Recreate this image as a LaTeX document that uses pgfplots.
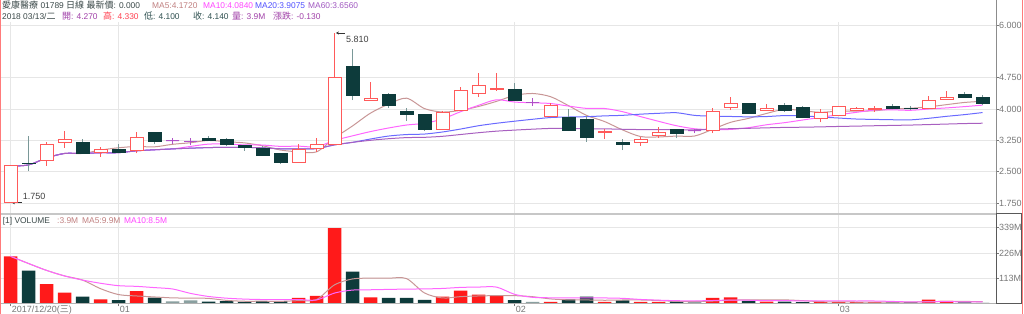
\documentclass[border=0pt]{standalone}
\usepackage{fontspec}
\setmainfont{Liberation Sans}
\newfontfamily\cjk{Noto Sans CJK TC}
\usepackage{pgfplots}
\usepackage{pgfplotstable}
\pgfplotsset{compat=1.18}
\usetikzlibrary{arrows.meta}

\definecolor{upred}{HTML}{FF5A5A}
\definecolor{dnfill}{HTML}{0D3B3B}
\definecolor{dnwick}{HTML}{7A9898}
\definecolor{doji}{HTML}{B050C8}
\definecolor{volred}{HTML}{FF1A1A}
\definecolor{voldn}{HTML}{0D3B3B}
\definecolor{voldoji}{HTML}{8AA0A0}
\definecolor{ma5c}{HTML}{C89696}
\definecolor{ma10c}{HTML}{FF66FF}
\definecolor{ma20c}{HTML}{6A6AFF}
\definecolor{ma60c}{HTML}{A860C0}
\definecolor{gridc}{HTML}{E6E6E6}
\definecolor{tickc}{HTML}{777777}
\definecolor{hdr}{HTML}{3A4848}
\definecolor{hma5}{HTML}{C08080}
\definecolor{hma10}{HTML}{FF44FF}
\definecolor{hma20}{HTML}{5050FF}
\definecolor{hma60}{HTML}{A058C0}
\definecolor{hpur}{HTML}{A040A8}
\definecolor{hred}{HTML}{FF4050}
\definecolor{hteal}{HTML}{2F5050}

\newcommand\ftsz{\fontsize{9bp}{11bp}\selectfont}
\newcommand\hsz{\fontsize{8.4bp}{11bp}\selectfont}
\newcommand\cj[1]{{\fontsize{9bp}{11bp}\cjk #1}}

% OHLC, up (red hollow) candles
\pgfplotstableread{
x o h l c
1 1.77 2.65 1.75 2.64
3 2.78 3.22 2.64 3.16
4 3.19 3.48 3.08 3.26
6 2.96 3.10 2.86 3.04
8 3.00 3.44 2.94 3.31
17 2.72 3.16 2.72 3.03
18 3.05 3.30 2.98 3.15
19 3.16 5.81 3.14 4.74
21 4.20 4.65 4.20 4.25
25 3.50 3.95 3.50 3.92
26 3.96 4.53 3.96 4.45
27 4.37 4.85 4.29 4.55
28 4.46 4.85 4.43 4.48
31 3.81 4.13 3.81 4.07
34 3.43 3.51 3.29 3.47
36 3.19 3.34 3.12 3.28
37 3.36 3.56 3.31 3.43
40 3.48 4.03 3.42 3.95
41 4.03 4.28 3.97 4.12
43 3.97 4.12 3.96 4.01
46 3.78 3.99 3.68 3.92
47 3.85 4.05 3.84 4.05
48 3.96 4.05 3.94 4.00
49 3.99 4.06 3.93 4.02
52 4.01 4.31 4.00 4.21
53 4.23 4.43 4.22 4.27
}\upc
% down (dark filled) candles
\pgfplotstableread{
x o h l c
2 2.71 3.35 2.52 2.69
5 3.20 3.29 2.93 2.94
7 3.04 3.16 2.96 2.97
9 3.43 3.43 3.16 3.22
12 3.29 3.35 3.23 3.24
13 3.28 3.31 3.12 3.16
14 3.13 3.14 3.00 3.08
15 3.06 3.11 2.88 2.90
16 2.93 2.94 2.69 2.72
20 5.00 5.43 4.21 4.33
22 4.35 4.39 4.03 4.09
23 3.93 4.03 3.72 3.87
24 3.87 3.88 3.47 3.50
29 4.47 4.61 4.19 4.20
32 3.80 3.99 3.47 3.48
33 3.75 3.83 3.22 3.32
35 3.19 3.28 3.02 3.16
38 3.50 3.51 3.30 3.42
42 4.12 4.12 3.90 3.90
44 4.07 4.13 3.93 3.97
45 4.04 4.06 3.78 3.79
50 4.05 4.11 3.99 4.00
51 4.02 4.06 3.97 4.01
54 4.35 4.40 4.27 4.28
55 4.27 4.33 4.10 4.14
}\dnc
% doji candles
\pgfplotstableread{
x o h l c
10 3.24 3.31 3.17 3.24
11 3.23 3.31 3.14 3.23
30 4.16 4.27 4.08 4.16
39 3.48 3.53 3.42 3.48
}\djc
% moving averages of the close
\pgfplotstableread{
x ma5 ma10 ma20 ma60
1 2.640 2.640 2.640 2.640
2 2.665 2.665 2.665 2.665
3 2.830 2.830 2.830 2.830
4 2.938 2.938 2.938 2.938
5 2.938 2.938 2.938 2.938
6 3.018 2.955 2.955 2.955
7 3.074 2.957 2.957 2.957
8 3.104 3.001 3.001 3.001
9 3.096 3.026 3.026 3.026
10 3.156 3.047 3.047 3.047
11 3.194 3.106 3.064 3.064
12 3.248 3.161 3.078 3.078
13 3.218 3.161 3.085 3.085
14 3.190 3.143 3.084 3.084
15 3.122 3.139 3.072 3.072
16 3.020 3.107 3.050 3.050
17 2.978 3.113 3.049 3.049
18 2.976 3.097 3.054 3.054
19 3.308 3.249 3.143 3.143
20 3.594 3.358 3.203 3.203
21 3.900 3.460 3.283 3.252
22 4.112 3.545 3.353 3.290
23 4.256 3.616 3.389 3.316
24 4.008 3.658 3.401 3.323
25 3.926 3.760 3.450 3.347
26 3.966 3.933 3.520 3.390
27 4.058 4.085 3.599 3.433
28 4.180 4.218 3.658 3.470
29 4.320 4.164 3.707 3.495
30 4.368 4.147 3.753 3.517
31 4.292 4.129 3.795 3.535
32 4.078 4.068 3.807 3.533
33 3.846 4.013 3.815 3.527
34 3.700 4.010 3.834 3.525
35 3.500 3.934 3.847 3.515
36 3.342 3.817 3.875 3.508
37 3.332 3.705 3.895 3.506
38 3.352 3.599 3.909 3.504
39 3.354 3.527 3.846 3.503
40 3.512 3.506 3.827 3.515
41 3.680 3.511 3.820 3.529
42 3.774 3.553 3.811 3.538
43 3.892 3.622 3.818 3.549
44 3.990 3.672 3.841 3.559
45 3.958 3.735 3.835 3.564
46 3.918 3.799 3.808 3.572
47 3.948 3.861 3.783 3.582
48 3.946 3.919 3.759 3.590
49 3.956 3.973 3.750 3.599
50 3.998 3.978 3.742 3.607
51 4.016 3.967 3.739 3.615
52 4.048 3.998 3.776 3.627
53 4.102 4.024 3.823 3.639
54 4.154 4.055 3.864 3.651
55 4.182 4.090 3.913 3.659
}\matab
% volumes (millions)
\pgfplotstableread{
x v
1 212
3 88
4 50
6 20
8 57
17 26
18 35
19 338
21 29
25 32
26 59
27 41
28 34
31 9
34 9
36 9
37 9
40 26
41 29
43 10
46 7
47 7
48 8
49 7
52 19
53 13
}\volup
\pgfplotstableread{
x v
2 148
5 32
7 16
9 28
12 10
13 12
14 9
15 12
16 12
20 144
22 26
23 26
24 17
29 16
32 20
33 32
35 15
38 11
42 13
44 10
45 8
50 6.5
51 7.6
54 6
55 3.9
}\voldn
\pgfplotstableread{
x v
10 11
11 15
30 9
39 7
}\voldj
\pgfplotstableread{
x vma5 vma10
1 212 212
2 180 180
3 149.3 149.3
4 124.5 124.5
5 106 106
6 67.6 91.7
7 41.2 80.9
8 35 77.9
9 30.6 72.3
10 26.4 66.2
11 25.4 46.5
12 24.2 32.7
13 15.2 25.1
14 11.4 21
15 11.6 19
16 11 18.2
17 14.2 19.2
18 18.8 17
19 84.6 48
20 111 61.3
21 114.4 62.7
22 114.4 64.3
23 112.6 65.7
24 48.4 66.5
25 26 68.5
26 32 73.2
27 35 74.7
28 36.6 74.6
29 36.4 42.4
30 31.8 28.9
31 21.8 26.9
32 17.6 26.3
33 17.2 26.9
34 15.8 26.1
35 17 24.4
36 17 19.4
37 14.8 16.2
38 10.6 13.9
39 10.2 13
40 12.4 14.7
41 16.4 16.7
42 17.2 16
43 17 13.8
44 17.6 13.9
45 14 13.2
46 9.6 13
47 8.4 12.8
48 8 12.5
49 7.4 12.5
50 7.1 10.55
51 7.22 8.41
52 9.62 9.01
53 10.62 9.31
54 10.42 8.91
55 9.9 8.5
}\vmatab

% price scale of the upper axis: 191bp over 6.072-1.519
\def\pscale{41.95}
\newcommand\tofixed[2]{\pgfmathfloatparsenumber{#1}\pgfmathfloattofixed{\pgfmathresult}\let#2=\pgfmathresult}
\pgfplotsset{
  candle/.style n args={3}{
    scatter, only marks, mark=*, mark size=0pt,
    mark options={draw=none, fill=none},
    visualization depends on={\thisrow{o} \as \candO},
    visualization depends on={\thisrow{h} \as \candH},
    visualization depends on={\thisrow{l} \as \candL},
    visualization depends on={\thisrow{c} \as \candC},
    scatter/@pre marker code/.code={%
      \tofixed{\candO}{\nO}\tofixed{\candH}{\nH}%
      \tofixed{\candL}{\nL}\tofixed{\candC}{\nC}%
      \pgfmathsetmacro\cdO{(\nO-\nC)*\pscale}%
      \pgfmathsetmacro\cdH{(\nH-\nC)*\pscale}%
      \pgfmathsetmacro\cdL{(\nL-\nC)*\pscale}%
      \draw[draw=#3, line width=1bp] (0bp,\cdL bp) -- (0bp,\cdH bp);
      \draw[draw=#1, fill=#2, line width=1bp] (-6.5bp,0bp) rectangle (6.5bp,\cdO bp);
    },
    scatter/@post marker code/.code={},
  },
}

\begin{document}
\begin{tikzpicture}

\begin{axis}[at={(1bp,101bp)}, anchor=south west, scale only axis,
  width=995bp, height=191bp,
  xmin=0.4722, xmax=55.75, ymin=1.519, ymax=6.072,
  axis line style={draw=none},
  xtick={1,7,29,47}, xticklabels={}, xtick style={draw=none},
  ytick={1.75,2.5,3.25,4,4.75,6},
  yticklabels={1.750,2.500,3.250,4.000,4.750,6.000},
  ytick pos=right, yticklabel pos=right, tick align=outside,
  major tick length=2.5bp,
  ytick style={color=tickc, line width=0.8bp},
  yticklabel style={font=\ftsz, text=tickc, anchor=west, inner sep=0.5bp},
  grid=major, major grid style={color=gridc, line width=0.8bp},
  clip=false,
]
\addplot[candle={upred}{white}{upred}] table[x=x,y=c]{\upc};
\addplot[candle={dnfill}{dnfill}{dnwick}] table[x=x,y=c]{\dnc};
\addplot[candle={doji}{doji}{doji}] table[x=x,y=c]{\djc};
\addplot[ma5c, line width=1bp, smooth, mark=none] table[x=x,y=ma5]{\matab};
\addplot[ma10c, line width=1bp, smooth, mark=none] table[x=x,y=ma10]{\matab};
\addplot[ma20c, line width=1bp, smooth, mark=none] table[x=x,y=ma20]{\matab};
\addplot[ma60c, line width=1bp, smooth, mark=none] table[x=x,y=ma60]{\matab};
\draw[-{Stealth[length=3bp,width=3bp]}, color=black!80, line width=0.8bp]
  (axis cs:19.58,5.81) -- (axis cs:19.08,5.81);
\node[anchor=west, inner sep=0.5bp, font=\ftsz, text=black!75] at (axis cs:19.6,5.667) {5.810};
\draw[-{Stealth[length=3bp,width=3bp]}, color=black!80, line width=0.8bp]
  (axis cs:1.62,1.764) -- (axis cs:1.08,1.764);
\node[anchor=west, inner sep=0.5bp, font=\ftsz, text=black!75] at (axis cs:1.65,1.907) {1.750};
\end{axis}

\begin{axis}[at={(1bp,10.2bp)}, anchor=south west, scale only axis,
  width=995bp, height=88.8bp,
  xmin=0.4722, xmax=55.75, ymin=0, ymax=396.6,
  axis line style={draw=none},
  xtick={1,7,29,47},
  xticklabels={{2017/12/20({\cjk 三})},01,02,03},
  xtick pos=bottom, ytick pos=right, yticklabel pos=right,
  ytick={113,226,339}, yticklabels={113M,226M,339M},
  tick align=outside, major tick length=2.5bp,
  tick style={color=tickc, line width=0.8bp},
  yticklabel style={font=\ftsz, text=tickc, anchor=west, inner sep=0.5bp},
  xticklabel style={font=\ftsz, text=tickc, anchor=base west, inner sep=0pt, xshift=1.2bp, yshift=-6.5bp},
  grid=major, major grid style={color=gridc, line width=0.8bp},
  clip=false,
]
\addplot[ybar, bar width=13.5bp, bar shift=0pt, fill=volred, draw=none] table[x=x,y=v]{\volup};
\addplot[ybar, bar width=13.5bp, bar shift=0pt, fill=voldn, draw=none] table[x=x,y=v]{\voldn};
\addplot[ybar, bar width=13.5bp, bar shift=0pt, fill=voldoji, draw=none] table[x=x,y=v]{\voldj};
\addplot[ma5c, line width=1bp, smooth, mark=none] table[x=x,y=vma5]{\vmatab};
\addplot[ma10c, line width=1bp, smooth, mark=none] table[x=x,y=vma10]{\vmatab};
\end{axis}

% frame lines
\draw[color=black!22, line width=2bp] (0bp,100bp) -- (996bp,100bp);
\draw[color=black!30, line width=0.8bp] (0bp,10.2bp) -- (996bp,10.2bp);
\draw[color=black!45, line width=0.8bp] (996bp,314bp) -- (996bp,100bp);
\draw[color=black!65, line width=1bp] (996bp,10.2bp) rectangle (1021bp,100bp);
\draw[color=upred!80, line width=1bp] (0.5bp,0bp) -- (0.5bp,314bp);
\draw[color=upred!80, line width=1bp] (1022bp,0bp) -- (1022bp,314bp);

% header
\node[anchor=base west, inner sep=0, font=\hsz, text=hdr] at (2bp,305.5bp) {\cj{愛康醫療} 01789 \cj{日線} \cj{最新價}: 0.000};
\node[anchor=base west, inner sep=0, font=\hsz, text=hma5] at (152bp,305.5bp) {MA5:4.1720};
\node[anchor=base west, inner sep=0, font=\hsz, text=hma10] at (203bp,305.5bp) {MA10:4.0840};
\node[anchor=base west, inner sep=0, font=\hsz, text=hma20] at (255bp,305.5bp) {MA20:3.9075};
\node[anchor=base west, inner sep=0, font=\hsz, text=hma60] at (308bp,305.5bp) {MA60:3.6560};
\node[anchor=base west, inner sep=0, font=\hsz, text=hdr] at (2bp,294.5bp) {2018 03/13/\cj{二}};
\node[anchor=base west, inner sep=0, font=\hsz, text=hpur] at (62bp,294.5bp) {\cj{開}: 4.270};
\node[anchor=base west, inner sep=0, font=\hsz, text=hred] at (103bp,294.5bp) {\cj{高}: 4.330};
\node[anchor=base west, inner sep=0, font=\hsz, text=hteal] at (144bp,294.5bp) {\cj{低}: 4.100};
\node[anchor=base west, inner sep=0, font=\hsz, text=hteal] at (193bp,294.5bp) {\cj{收}: 4.140};
\node[anchor=base west, inner sep=0, font=\hsz, text=hpur] at (232bp,294.5bp) {\cj{量}: 3.9M};
\node[anchor=base west, inner sep=0, font=\hsz, text=hpur] at (273bp,294.5bp) {\cj{漲跌}: -0.130};
\node[anchor=base west, inner sep=0, font=\hsz, text=hdr] at (2.7bp,90.3bp) {[1] VOLUME};
\node[anchor=base west, inner sep=0, font=\hsz, text=hma5] at (57bp,90.3bp) {:3.9M};
\node[anchor=base west, inner sep=0, font=\hsz, text=hma5] at (82bp,90.3bp) {MA5:9.9M};
\node[anchor=base west, inner sep=0, font=\hsz, text=hma10] at (124bp,90.3bp) {MA10:8.5M};

\pgfresetboundingbox
\useasboundingbox (0bp,0bp) rectangle (1024bp,314bp);
\end{tikzpicture}
\end{document}
